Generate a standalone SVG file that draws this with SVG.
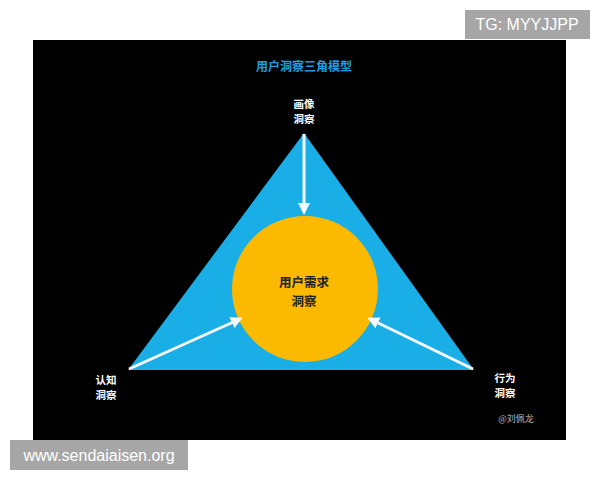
<svg xmlns="http://www.w3.org/2000/svg" width="600" height="480" viewBox="0 0 600 480">
<style>
.lbl{font-family:"Noto Sans CJK SC","Liberation Sans",sans-serif;font-weight:bold;font-size:10.5px;fill:#ffffff;text-anchor:middle}
.ctr{font-family:"Noto Sans CJK SC","Liberation Sans",sans-serif;font-weight:bold;font-size:12.5px;fill:#222222;text-anchor:middle}
.wm{font-family:"Liberation Sans",sans-serif;font-size:16px;fill:#ffffff}
.arr{stroke:#f4f8ff;stroke-width:3;fill:none;marker-end:url(#ah)}
</style>
<defs>
<marker id="ah" markerWidth="4" markerHeight="4" refX="3" refY="2" orient="auto" markerUnits="strokeWidth">
<path d="M0,0 L4,2 L0,4 Z" fill="#f4f8ff"/>
</marker>
</defs>
<rect width="600" height="480" fill="#ffffff"/>
<rect x="33" y="40" width="533" height="400" fill="#000000"/>
<text x="304" y="71" font-family="Noto Sans CJK SC, sans-serif" font-weight="bold" font-size="12" fill="#1d9fe0" text-anchor="middle">用户洞察三角模型</text>
<g id="triangle">
<polygon points="304,133 128,370 474,370" fill="#1aaee6"/>
</g>
<g id="center">
<circle cx="305" cy="289" r="73" fill="#fbb900"/>
<text class="ctr" x="304" y="287">用户需求</text>
<text class="ctr" x="304" y="306">洞察</text>
</g>
<g id="top">
<text class="lbl" x="304" y="108">画像</text>
<text class="lbl" x="304" y="123">洞察</text>
</g>
<g id="left">
<text class="lbl" x="106" y="384">认知</text>
<text class="lbl" x="106" y="399">洞察</text>
</g>
<g id="right">
<text class="lbl" x="505" y="382">行为</text>
<text class="lbl" x="505" y="397">洞察</text>
</g>
<g id="connectors">
<line class="arr" x1="304" y1="134" x2="304" y2="212"/>
<line class="arr" x1="129" y1="369" x2="240" y2="319"/>
<line class="arr" x1="473" y1="369" x2="370" y2="319"/>
</g>
<text x="516" y="422" font-family="Noto Sans CJK SC, sans-serif" font-size="9" fill="#bbbbbb" text-anchor="middle">@刘佩龙</text>
<rect x="465" y="10" width="125" height="29" fill="#a6a6a6"/>
<text class="wm" x="527" y="30" text-anchor="middle">TG: MYYJJPP</text>
<rect x="10" y="440" width="178" height="30" fill="#a6a6a6"/>
<text class="wm" x="99" y="461" text-anchor="middle">www.sendaiaisen.org</text>
</svg>
